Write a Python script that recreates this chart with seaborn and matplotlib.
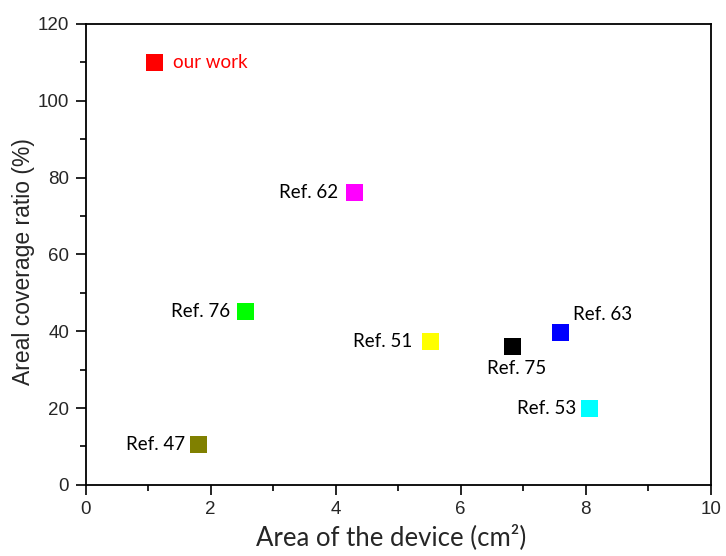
import matplotlib
matplotlib.use("Agg")
import matplotlib.pyplot as plt
from matplotlib.ticker import MultipleLocator
import seaborn as sns
import pandas as pd

labels = ["our work", "Ref. 62", "Ref. 76", "Ref. 47", "Ref. 51", "Ref. 75", "Ref. 63", "Ref. 53"]
area = [1.1, 4.3, 2.55, 1.8, 5.52, 6.83, 7.6, 8.06]
coverage = [110.0, 76.2, 45.0, 10.6, 37.2, 36.0, 39.6, 19.8]
colors = ["#FF0000", "#FF00FF", "#00FF00", "#808000", "#FFFF00", "#000000", "#0000FF", "#00FFFF"]
# label offsets (pixels) and alignment
offsets = [(19, 0), (-16, 0), (-15, 0), (-13, 0), (-18, 0), (4, -22), (12, 18), (-13, 0)]
aligns = ["left", "right", "right", "right", "right", "center", "left", "right"]
text_colors = ["#FF0000"] + ["#000000"] * 7

df = pd.DataFrame({"label": labels, "area": area, "coverage": coverage})

sns.set_style("white")
plt.rcParams['font.family'] = ['Liberation Sans', 'DejaVu Sans']

fig = plt.figure(figsize=(7.26, 5.56), dpi=100)
ax = fig.add_axes([0.118, 0.128, 0.861, 0.829])

sns.scatterplot(data=df, x="area", y="coverage", hue="label",
                palette=dict(zip(labels, colors)), marker="s", s=150,
                edgecolor="none", linewidth=0, legend=False, ax=ax, zorder=3)

for lab, x, y, (dx, dy), ha, tc in zip(labels, area, coverage, offsets, aligns, text_colors):
    ax.annotate(lab, (x, y), xytext=(dx, dy), textcoords="offset pixels",
                ha=ha, va="center", fontsize=13.5, color=tc, family="Lato")

ax.set_xlim(0, 10)
ax.set_ylim(0, 120)
ax.xaxis.set_major_locator(MultipleLocator(2))
ax.xaxis.set_minor_locator(MultipleLocator(1))
ax.yaxis.set_major_locator(MultipleLocator(20))
ax.yaxis.set_minor_locator(MultipleLocator(10))
ax.tick_params(axis="both", which="major", direction="out", length=7, width=1.2,
               labelsize=13.5, bottom=True, left=True, top=False, right=False, color="black", pad=5)
ax.tick_params(axis="both", which="minor", direction="out", length=4, width=1.2,
               bottom=True, left=True, top=False, right=False, color="black")
for lbl in ax.get_xticklabels() + ax.get_yticklabels():
    lbl.set_family("Liberation Sans")
for sp in ax.spines.values():
    sp.set_visible(True)
    sp.set_color("black")
    sp.set_linewidth(1.3)

ax.set_xlabel("Area of the device (cm²)", fontsize=18.5, family="Lato", labelpad=4)
ax.xaxis.label.set_x(0.488)
ax.set_ylabel("Areal coverage ratio (%)", fontsize=16.5, family="Liberation Sans", labelpad=2)
ax.yaxis.label.set_y(0.485)

fig.savefig("out.png", dpi=100)
